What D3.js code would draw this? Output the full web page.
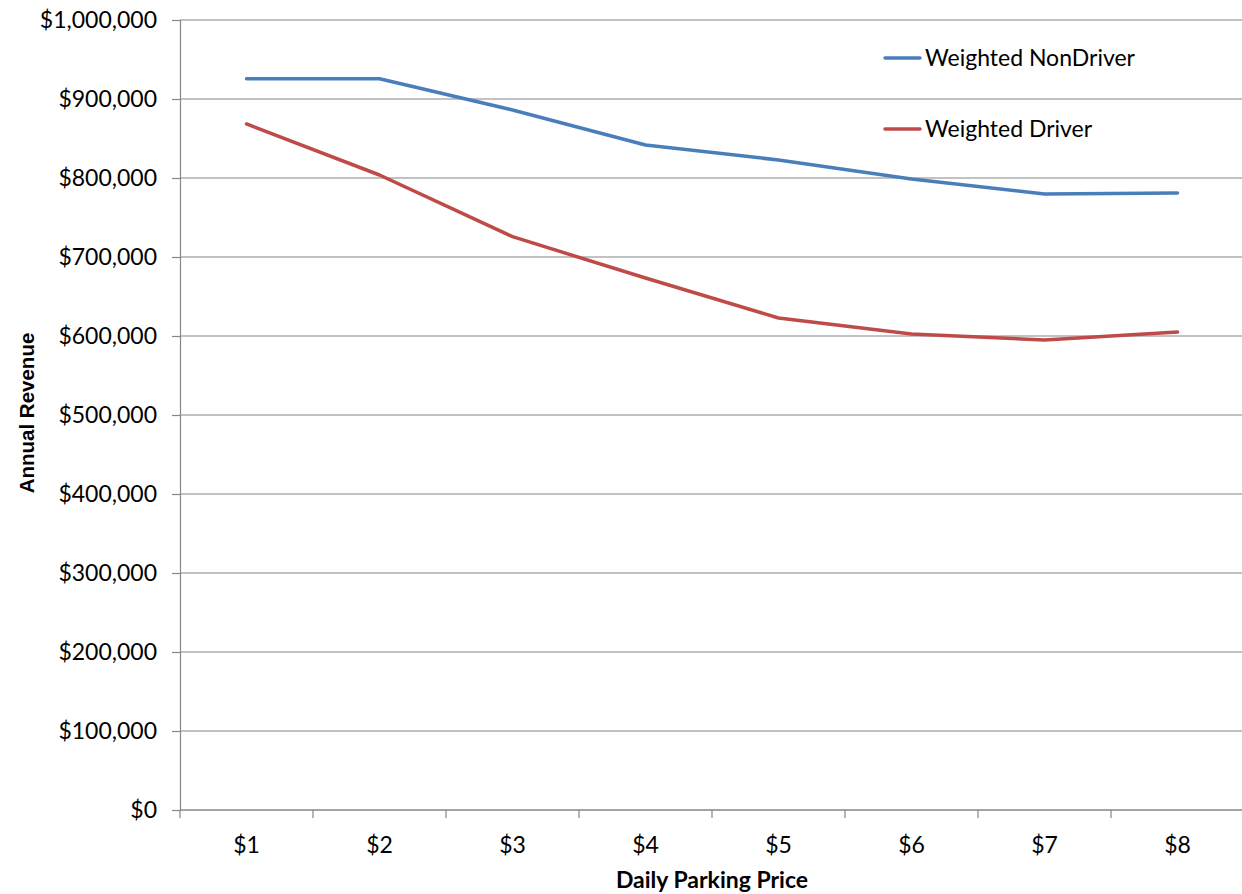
<!DOCTYPE html>
<html>
<head>
<meta charset="utf-8">
<script src="https://cdn.jsdelivr.net/npm/d3@7"></script>
<style>
  html, body { margin: 0; padding: 0; background: #fff; }
  svg { display: block; font-family: Lato, "Noto Sans", sans-serif; }
</style>
</head>
<body>
<svg id="chart" width="1242" height="894"></svg>
<script>
const categories = ["$1", "$2", "$3", "$4", "$5", "$6", "$7", "$8"];
const nonDriver = [925700, 925700, 886100, 841800, 822800, 798700, 779700, 781000];
const driver = [868400, 803800, 725700, 673400, 622800, 602500, 594900, 605000];
const yTicks = [0, 100000, 200000, 300000, 400000, 500000, 600000, 700000, 800000, 900000, 1000000];
const seriesNames = ["Weighted NonDriver", "Weighted Driver"];
const seriesColors = ["#4A7EBB", "#BE4B48"];

(function () {
const svg = d3.select("#chart");
const mLeft = 180, mRight = 1244, mTop = 20, mBottom = 810;
const gridColor = "#868686";
const fs = "23px";

const x = d3.scaleBand().domain(categories).range([mLeft, mRight]).padding(0);
const y = d3.scaleLinear().domain([0, 1000000]).range([mBottom, mTop]);

// gridlines
svg.append("g").selectAll("line").data(yTicks).join("line")
  .attr("x1", mLeft).attr("x2", mRight)
  .attr("y1", d => y(d)).attr("y2", d => y(d))
  .attr("stroke", gridColor).attr("stroke-width", 1.2);

// y axis
const yAxis = svg.append("g").attr("transform", `translate(${mLeft},0)`)
  .call(d3.axisLeft(y).tickValues(yTicks).tickFormat(d3.format("$,")).tickSize(8).tickPadding(15));
yAxis.select(".domain").attr("stroke", gridColor).attr("stroke-width", 1.2);
yAxis.selectAll(".tick line").attr("stroke", gridColor).attr("stroke-width", 1.2);
yAxis.selectAll(".tick text").attr("fill", "#000").style("font-size", fs).style("font-family", "Lato, sans-serif");

// x axis
const xAxis = svg.append("g").attr("transform", `translate(0,${mBottom})`)
  .call(d3.axisBottom(x).tickSize(0).tickPadding(27));
xAxis.select(".domain").remove();
xAxis.selectAll(".tick text").attr("fill", "#000").style("font-size", fs).style("font-family", "Lato, sans-serif");
svg.append("line").attr("x1", mLeft).attr("x2", mRight).attr("y1", mBottom).attr("y2", mBottom)
  .attr("stroke", gridColor).attr("stroke-width", 1.2);
const bounds = categories.map(c => x(c)).concat([x(categories[categories.length - 1]) + x.bandwidth()]);
svg.append("g").selectAll("line").data(bounds).join("line")
  .attr("x1", d => d).attr("x2", d => d).attr("y1", mBottom).attr("y2", mBottom + 8)
  .attr("stroke", gridColor).attr("stroke-width", 1.2);

// lines
const line = d3.line().x((d, i) => x(categories[i]) + x.bandwidth() / 2).y(d => y(d));
[nonDriver, driver].forEach((s, k) => {
  svg.append("path").datum(s).attr("d", line)
    .attr("fill", "none").attr("stroke", seriesColors[k]).attr("stroke-width", 3.5)
    .attr("stroke-linejoin", "round").attr("stroke-linecap", "round");
});

// legend
const legendY = [58, 129];
seriesNames.forEach((n, k) => {
  svg.append("line").attr("x1", 885).attr("x2", 920).attr("y1", legendY[k]).attr("y2", legendY[k])
    .attr("stroke", seriesColors[k]).attr("stroke-width", 3.5).attr("stroke-linecap", "round");
  svg.append("text").attr("x", 925).attr("y", legendY[k]).attr("dy", "0.35em")
    .style("font-size", fs).text(n);
});

// axis titles
svg.append("text").attr("x", 712).attr("y", 888).attr("text-anchor", "middle")
  .style("font-size", "23px").style("font-weight", "bold").text("Daily Parking Price");
svg.append("text").attr("transform", "translate(34,413) rotate(-90)").attr("text-anchor", "middle")
  .style("font-family", "'Liberation Sans', Arial, sans-serif")
  .style("font-size", "20.5px").style("font-weight", "bold").text("Annual Revenue");
})();
</script>
</body>
</html>
